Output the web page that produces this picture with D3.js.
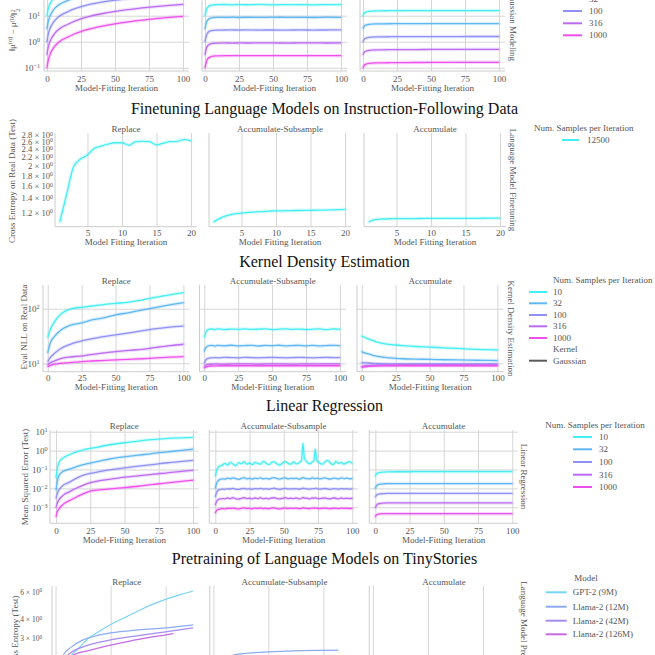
<!DOCTYPE html>
<html><head><meta charset="utf-8">
<script src="https://cdn.jsdelivr.net/npm/d3@7"></script>
<style>body{margin:0;background:#fff}svg{display:block}</style>
</head><body><svg id="c" width="655" height="655"></svg>
<script>
// ================= DATA =================
const sampleSizes = ["10","32","100","316","1000"];
const modelNames = ["GPT-2 (9M)","Llama-2 (12M)","Llama-2 (42M)","Llama-2 (126M)"];
const panelTitles = ["Replace","Accumulate-Subsample","Accumulate"];
const rowTitles = ["Finetuning Language Models on Instruction-Following Data","Kernel Density Estimation","Linear Regression","Pretraining of Language Models on TinyStories"];
const rowLabels = ["Gaussian Modeling","Language Model Finetuning","Kernel Density Estimation","Linear Regression","Language Model Pretraining"];
const ticks100 = [0,25,50,75,100];
const ticks20 = [5,10,15,20];
const ticksPT = [0,10,20];

// Gaussian modeling: ||mu^(n) - mu^(0)||^2
const gaussIters = [0,1,2,4,6,9,15,20,25,30,40,50,60,70,80,90,100];
const gaussReplace = [
 [10,19,27,41,52,65,79,88,93,96,98,99,100,101,100,99,100],
 [3.1,6.2,9.1,14.7,20,27,38,47,55,61,72,80,85,89,92,94,96],
 [1,2,3,4.9,6.8,9.6,14,18.2,22.2,26,33,39.5,45,50.5,55,59.5,63],
 [0.32,0.63,0.95,1.57,2.2,3.1,4.6,6.1,7.6,9.05,11.9,14.7,17.3,19.9,22.4,24.8,27.2],
 [0.1,0.2,0.3,0.5,0.7,1.0,1.49,1.98,2.47,2.96,3.92,4.88,5.82,6.76,7.69,8.6,9.5]];
const gaussAccSub = [
 [10,17,21,25,26,26.5,27,26.2,26.8,26.4,27.1,26.3,26.9,26.5,26.2,26.8,26.5],
 [3.1,5.4,6.8,8.0,8.5,8.7,8.6,8.8,8.55,8.75,8.6,8.8,8.65,8.7,8.55,8.8,8.6],
 [1.0,1.7,2.2,2.6,2.75,2.8,2.82,2.85,2.8,2.84,2.81,2.83,2.8,2.85,2.81,2.83,2.85],
 [0.32,0.55,0.7,0.82,0.87,0.89,0.9,0.89,0.9,0.895,0.9,0.9,0.89,0.9,0.9,0.895,0.9],
 [0.1,0.17,0.22,0.26,0.28,0.285,0.29,0.29,0.29,0.29,0.29,0.29,0.29,0.29,0.29,0.29,0.29]];
const gaussAcc = [
 [10,12.5,13.6,14.6,15,15.3,15.5,15.6,15.6,15.7,15.7,15.8,15.8,15.8,15.8,15.8,15.8],
 [3.2,4.0,4.35,4.6,4.75,4.85,4.9,4.92,4.93,4.95,4.96,4.97,4.98,4.98,4.99,4.99,5.0],
 [1.0,1.25,1.36,1.46,1.5,1.53,1.55,1.56,1.57,1.57,1.58,1.58,1.58,1.58,1.59,1.59,1.59],
 [0.32,0.4,0.43,0.46,0.475,0.485,0.49,0.495,0.5,0.5,0.5,0.505,0.505,0.505,0.51,0.51,0.51],
 [0.1,0.125,0.136,0.146,0.15,0.153,0.155,0.156,0.157,0.158,0.159,0.16,0.16,0.161,0.161,0.162,0.162]];

// Finetuning (cross entropy on real data)
const ftIters = [1,2,3,4,5,6,7,8,9,10,11,12,13,14,15,16,17,18,19,20];
const ftReplace = [1.08,1.47,1.98,2.15,2.25,2.42,2.48,2.53,2.57,2.57,2.5,2.6,2.61,2.6,2.51,2.56,2.6,2.61,2.66,2.62];
const ftAccSub = [1.08,1.13,1.16,1.18,1.19,1.2,1.205,1.21,1.215,1.22,1.22,1.222,1.224,1.225,1.226,1.228,1.23,1.232,1.235,1.24];
const ftAcc = [1.08,1.11,1.115,1.118,1.12,1.12,1.121,1.121,1.122,1.122,1.122,1.123,1.123,1.123,1.124,1.124,1.124,1.125,1.125,1.125];
const ftSampleSize = ["12500"];

// Kernel density estimation (eval NLL)
const kdeIters = [0,2,5,10,15,20,25,30,40,50,60,70,80,90,100];
const kdeReplace = [
 [30,42,58,81,95,103,106,110,118,125,132,145,163,180,197],
 [15.6,24,31,41,48,52,55,60,67,77,85,95,106,118,129],
 [10.7,12.8,15.2,18.8,21.5,23.8,25.6,27.3,30.5,33,36,39.5,43,46,48],
 [9.3,10.2,11,12.3,12.9,13.3,13.6,14.2,15.3,16.3,17.2,18,19.5,21,22.3],
 [8.7,9.1,9.6,10,10.2,10.5,10.7,10.9,11.2,11.5,11.8,12.1,12.5,12.9,13.2]];
const kdeSubIters = [0,1,2,3,5,8,10,15,20,25,30,35,40,45,50,55,60,65,70,75,80,85,90,95,100];
const kdeAccSub = [
 [30,36,40,41.5,42.5,41.5,42.8,41.6,42.4,41.9,42.6,41.7,42.3,42.8,41.5,42.2,42.6,41.8,42.4,41.6,42.1,42.7,41.2,42.5,42],
 [16.5,19,20.2,20.8,21.3,20.7,21.2,20.9,21.4,20.8,21.1,21.3,20.7,21.2,21,21.4,20.8,21.1,21.3,20.9,21.2,20.8,21.1,21.3,21],
 [10,11.3,12,12.3,12.6,12.7,12.6,12.8,12.7,12.6,12.8,12.7,12.6,12.7,12.8,12.7,12.6,12.7,12.8,12.7,12.6,12.7,12.8,12.7,12.7],
 [8.7,9.1,9.4,9.5,9.6,9.7,9.7,9.65,9.7,9.75,9.7,9.7,9.65,9.7,9.75,9.7,9.7,9.65,9.7,9.7,9.75,9.7,9.7,9.7,9.7],
 [8.2,8.5,8.7,8.8,8.9,8.95,9,9,9,9,9,9,9,9,9,9,9,9,9,9,9,9,9,9,9]];
const kdeAcc = [
 [31.6,30,28,24.9,23.2,22.2,21.6,21,20.3,19.8,19.2,18.7,18.2,17.8,17.5],
 [16.3,15.5,14.8,13.6,13,12.6,12.3,12.1,11.9,11.8,11.6,11.5,11.4,11.3,11.2],
 [10.3,10.2,10.1,9.9,9.8,9.75,9.7,9.7,9.7,9.7,9.7,9.7,9.7,9.7,9.7],
 [8.7,8.9,9.05,9.15,9.2,9.25,9.3,9.3,9.3,9.3,9.3,9.3,9.3,9.3,9.3],
 [8.4,8.6,8.8,8.9,8.95,9,9,9,9,9,9,9,9,9,9]];
const kdeKernel = ["Gaussian"];

// Linear regression (test MSE)
const lrIters = [0,1,2,4,6,9,15,20,25,30,40,50,60,70,80,90,100];
const lrReplace = [
 [0.036,0.12,0.22,0.35,0.45,0.58,0.86,1.1,1.3,1.5,2.1,2.6,3.2,3.8,4.3,4.7,5.0],
 [0.0081,0.025,0.045,0.07,0.085,0.1,0.14,0.18,0.22,0.26,0.37,0.47,0.57,0.7,0.83,1.0,1.2],
 [0.003,0.0055,0.008,0.012,0.016,0.02,0.035,0.05,0.062,0.072,0.098,0.123,0.15,0.18,0.22,0.26,0.3],
 [0.001,0.0017,0.0024,0.0036,0.0048,0.0062,0.0105,0.015,0.02,0.024,0.031,0.039,0.046,0.055,0.065,0.077,0.09],
 [0.00032,0.0006,0.0008,0.0012,0.0016,0.0021,0.0035,0.0053,0.0072,0.008,0.0095,0.011,0.013,0.016,0.019,0.023,0.027]];
const lrSubIters = [0,1,2,3,5,7,9,11,13,15,17,19,21,23,25,27,29,31,33,35,37,39,41,43,45,47,49,51,53,55,57,59,61,63,64,65,67,69,71,72,73,74,76,78,80,82,84,86,88,90,92,94,96,98,100];
const lrAccSub = [
 [0.045,0.09,0.13,0.15,0.17,0.21,0.17,0.24,0.19,0.16, 0.23,0.2,0.26,0.19,0.22,0.18,0.24,0.21,0.19,0.27, 0.22,0.18,0.23,0.25,0.2,0.17,0.22,0.26,0.21,0.19, 0.25,0.2,0.22,0.32,2.4,0.4,0.24,0.2,0.26,0.3, 1.2,0.32,0.22,0.19,0.25,0.3,0.22,0.18,0.27,0.21, 0.24,0.19,0.23,0.26,0.21],
 [0.01,0.019,0.025,0.029,0.032,0.031,0.035,0.032,0.036,0.033, 0.03,0.034,0.037,0.032,0.034,0.031,0.035,0.033,0.036,0.032, 0.034,0.031,0.035,0.037,0.033,0.031,0.034,0.036,0.032,0.034, 0.033,0.035,0.031,0.034,0.038,0.035,0.033,0.032,0.036,0.034, 0.033,0.035,0.032,0.034,0.036,0.033,0.031,0.035,0.034,0.032, 0.036,0.033,0.035,0.032,0.034],
 [0.0036,0.0062,0.0078,0.0086,0.0092,0.0089,0.0097,0.0093,0.0099,0.0091, 0.0088,0.0096,0.0101,0.0092,0.0095,0.0089,0.0098,0.0094,0.01,0.0092, 0.0096,0.009,0.0097,0.0102,0.0093,0.0089,0.0096,0.01,0.0092,0.0095, 0.0094,0.0098,0.009,0.0096,0.0104,0.0099,0.0094,0.0091,0.0098,0.0096, 0.0102,0.0097,0.0092,0.0095,0.0099,0.0093,0.0089,0.0097,0.0095,0.0091, 0.0098,0.0094,0.0096,0.0092,0.0095],
 [0.0013,0.0021,0.0025,0.0027,0.0029,0.0028,0.0031,0.0029,0.0032,0.0028, 0.0027,0.003,0.0032,0.0029,0.003,0.0028,0.0031,0.0029,0.0032,0.0028, 0.003,0.0028,0.0031,0.0032,0.0029,0.0028,0.003,0.0032,0.0029,0.003, 0.0029,0.0031,0.0028,0.003,0.0033,0.0031,0.003,0.0028,0.0031,0.003, 0.0032,0.003,0.0029,0.003,0.0031,0.0029,0.0028,0.0031,0.003,0.0028, 0.0031,0.0029,0.003,0.0029,0.003],
 [0.0005,0.00068,0.00076,0.0008,0.00085,0.00083,0.00089,0.00086,0.0009,0.00084, 0.00082,0.00088,0.00092,0.00086,0.00088,0.00083,0.0009,0.00087,0.00091,0.00085, 0.00088,0.00084,0.0009,0.00092,0.00086,0.00083,0.00088,0.00091,0.00086,0.00088, 0.00087,0.0009,0.00084,0.00088,0.00094,0.0009,0.00087,0.00085,0.0009,0.00088, 0.00092,0.00089,0.00086,0.00088,0.0009,0.00087,0.00084,0.00089,0.00088,0.00085, 0.0009,0.00087,0.00089,0.00086,0.00088]];
const lrAcc = [
 [0.045,0.06,0.066,0.071,0.073,0.075,0.076,0.076,0.076,0.077,0.077,0.077,0.077,0.077,0.077,0.077,0.077],
 [0.01,0.014,0.016,0.017,0.0175,0.018,0.018,0.018,0.018,0.018,0.018,0.018,0.018,0.018,0.018,0.018,0.018],
 [0.0036,0.0045,0.0049,0.0052,0.0053,0.0054,0.0054,0.0054,0.0054,0.0054,0.0054,0.0054,0.0054,0.0054,0.0054,0.0054,0.0054],
 [0.00095,0.0013,0.0015,0.0016,0.00165,0.0017,0.0017,0.0017,0.0017,0.0017,0.0017,0.0017,0.0017,0.0017,0.0017,0.0017,0.0017],
 [0.00032,0.0004,0.00043,0.00045,0.00046,0.00046,0.00046,0.00046,0.00046,0.00046,0.00046,0.00046,0.00046,0.00046,0.00046,0.00046,0.00046]];

// Pretraining (cross entropy, test)
const ptReplaceX = [[1,2,3,4,6,8,10,12,15,17.5,20,22.5,25],[1,1.4,2.9,5,7.5,10,15,20,25],[1,2.6,5,10,15,20,25],[1,3.2,6,10,13.5,17.1,21.4]];
const ptReplaceY = [[2.0,2.15,2.36,2.55,3.0,3.33,3.68,4.0,4.5,4.95,5.35,5.72,6.06],[2.15,2.34,2.64,2.93,3.12,3.25,3.4,3.5,3.66],[2.05,2.4,2.64,2.93,3.12,3.3,3.5],[2.0,2.34,2.5,2.71,2.88,3.04,3.22]];
const ptAccSubX = [[1,5,10,15,20,25],[1,3.6,8,12,16,22.7],[1,5,10,15,20,25],[1,5,10,15,21.4]];
const ptAccSubY = [[1.95,2.08,2.14,2.18,2.2,2.22],[2.05,2.34,2.43,2.47,2.5,2.52],[1.9,2.0,2.05,2.08,2.1,2.12],[1.85,1.95,2.0,2.03,2.06]];
const ptAccX = [[1,5,10,15,20,25],[1,5,10,15,20,25],[1,5,10,15,20,25],[1,5,10,15,21.4]];
const ptAccY = [[1.95,2.0,2.02,2.03,2.04,2.05],[2.0,2.1,2.15,2.18,2.2,2.22],[1.9,1.95,1.97,1.98,1.99,2.0],[1.85,1.9,1.92,1.93,1.94]];

// ================= STYLE =================
const COOL5 = ["#45eef2","#5fb8f3","#9090f5","#bb6cf2","#ee50ee"];
const COOL4 = ["#78d4f2","#8cabf2","#a58cf2","#c66ae8"];
const FONT = '"Liberation Serif","Times New Roman",serif';
const TXT = "#555";
const GRID = "#d6d6d6";
const SPINE = "#cccccc";

const svg = d3.select("#c");
let clipN = 0;

function supLabel(sel, mant, exp) {
  sel.text(null);
  sel.append("tspan").text(mant ? mant + " \u00d7 10" : "10");
  sel.append("tspan").attr("dy", "-0.45em").attr("font-size", "0.68em").text(exp);
}

function drawPanel(o) {
  const g = svg.append("g");
  const x = d3.scaleLinear().domain(o.xDomain).range([o.left, o.left + o.width]);
  const y = d3.scaleLog().domain(o.yDomain).range([o.bottom, o.top]);
  const h = o.bottom - o.top;
  g.append("g").attr("transform", `translate(0,${o.bottom})`)
    .call(d3.axisBottom(x).tickValues(o.xTicks).tickSize(-h).tickFormat(""))
    .call(a => { a.select(".domain").remove(); a.selectAll(".tick line").attr("stroke", GRID); });
  if (o.yGrid.length) {
    g.append("g").attr("transform", `translate(${o.left},0)`)
      .call(d3.axisLeft(y).tickValues(o.yGrid).tickSize(-o.width).tickFormat(""))
      .call(a => { a.select(".domain").remove(); a.selectAll(".tick line").attr("stroke", GRID); });
  }
  g.append("line").attr("x1", o.left).attr("x2", o.left).attr("y1", o.top).attr("y2", o.bottom).attr("stroke", SPINE);
  g.append("line").attr("x1", o.left).attr("x2", o.left + o.width).attr("y1", o.bottom).attr("y2", o.bottom).attr("stroke", SPINE);
  const id = "clp" + (clipN++);
  svg.append("clipPath").attr("id", id).append("rect")
    .attr("x", o.left).attr("y", o.top).attr("width", o.width).attr("height", h);
  const lg = g.append("g").attr("clip-path", `url(#${id})`);
  const line = d3.line().x(d => x(d[0])).y(d => y(d[1])).curve(d3.curveMonotoneX);
  o.series.forEach(s => {
    const pts = d3.zip(s.x, s.y);
    if (o.band) lg.append("path").attr("d", line(pts)).attr("fill", "none").attr("stroke", s.color)
      .attr("stroke-width", o.band).attr("stroke-opacity", 0.22).attr("stroke-linejoin", "round").attr("stroke-linecap", "round");
    lg.append("path").attr("d", line(pts)).attr("fill", "none").attr("stroke", s.color)
      .attr("stroke-width", o.lw || 1.3).attr("stroke-linejoin", "round");
  });
  g.append("g").attr("transform", `translate(0,${o.bottom})`)
    .call(d3.axisBottom(x).tickValues(o.xTicks).tickSize(0).tickPadding(o.xPad))
    .call(a => { a.select(".domain").remove(); a.attr("font-family", FONT).attr("font-size", 9).style("color", TXT); });
  if (o.xTitle) g.append("text").attr("x", o.left + o.width / 2).attr("y", o.xTitleY)
    .attr("text-anchor", "middle").attr("dominant-baseline", "central")
    .attr("font-family", FONT).attr("font-size", 9).attr("fill", TXT).text(o.xTitle);
  g.append("text").attr("x", o.left + o.width / 2).attr("y", o.top - 4)
    .attr("text-anchor", "middle").attr("dominant-baseline", "central")
    .attr("font-family", FONT).attr("font-size", 9).attr("fill", TXT).text(o.title);
  if (o.yLabels) {
    const ga = g.append("g").attr("transform", `translate(${o.left},0)`)
      .call(d3.axisLeft(y).tickValues(o.yLabels.map(d => d.v)).tickSize(0).tickPadding(o.yPad).tickFormat(() => ""))
      .call(a => { a.select(".domain").remove(); a.attr("font-family", FONT).attr("font-size", o.yFont || 9).style("color", TXT); });
    ga.selectAll(".tick text").each(function(d, i) { supLabel(d3.select(this), o.yLabels[i].m, o.yLabels[i].e); });
  }
}

function drawRow(r) {
  r.panels.forEach((series, i) => {
    drawPanel({
      left: r.lefts[i], width: r.width, top: r.top, bottom: r.bottom,
      xDomain: r.xDomain, yDomain: r.yDomain, xTicks: r.xTicks, yGrid: r.yGrid,
      yLabels: i === 0 ? r.yLabels : null, yPad: r.yPad, yFont: r.yFont, xPad: r.xPad,
      xTitle: r.xTitle, xTitleY: r.xTitleY, title: panelTitles[i],
      series: series, band: r.band, lw: r.lw
    });
  });
  const yt = svg.append("text").attr("transform", `translate(${r.yTitleX},${r.yTitleY}) rotate(-90)`)
    .attr("text-anchor", "middle").attr("dominant-baseline", "central")
    .attr("font-family", FONT).attr("font-size", 9).attr("fill", TXT);
  r.yTitle(yt);
  svg.append("text").attr("transform", `translate(${r.rowLabelX},${r.rowLabelY}) rotate(90)`)
    .attr("text-anchor", "middle").attr("dominant-baseline", "central")
    .attr("font-family", FONT).attr("font-size", 9).attr("fill", TXT).text(r.rowLabel);
  if (r.rowTitle) svg.append("text").attr("x", 324.5).attr("y", r.rowTitleY)
    .attr("text-anchor", "middle").attr("dominant-baseline", "central")
    .attr("font-family", FONT).attr("font-size", 16).attr("fill", "#111").text(r.rowTitle);
}

function drawLegend(L) {
  const g = svg.append("g").attr("font-family", FONT).attr("font-size", 9).attr("fill", TXT);
  g.append("text").attr("x", L.titleX).attr("y", L.titleY).attr("text-anchor", L.titleAnchor)
    .attr("dominant-baseline", "central").text(L.title);
  const items = L.items.map((d, i) => Object.assign({}, d, {yy: L.ys[i]}));
  const it = g.selectAll("g.it").data(items).join("g").attr("class", "it");
  it.filter(d => d.color).append("line").attr("x1", L.x1).attr("x2", L.x2)
    .attr("y1", d => d.yy).attr("y2", d => d.yy)
    .attr("stroke", d => d.color).attr("stroke-width", 2);
  it.append("text").attr("x", L.tx).attr("y", d => d.yy).attr("dominant-baseline", "central").text(d => d.label);
}

const mk = (xs, ys, cols) => ys.map((v, i) => ({x: xs, y: v, color: cols[i]}));
const mkXY = (xs, ys, cols) => ys.map((v, i) => ({x: xs[i], y: v, color: cols[i]}));
const dec = (e) => ({v: Math.pow(10, +e.replace("\u2212", "-")), e: e});

// ===== Row 1: Gaussian modeling =====
drawRow({
  top: -19, bottom: 71, lefts: [44, 202, 360], width: 145, xDomain: [-2.2, 104.4], xTicks: ticks100,
  yDomain: [0.075, 216], yGrid: [0.1, 1, 10, 100],
  yLabels: ["\u22121", "0", "1", "2"].map(dec), yPad: 4, xPad: 4.8,
  xTitle: "Model-Fitting Iteration", xTitleY: 88, band: 3.5,
  panels: [mk(gaussIters, gaussReplace, COOL5), mk(gaussIters, gaussAccSub, COOL5), mk(gaussIters, gaussAcc, COOL5)],
  yTitleX: 12, yTitleY: 30,
  yTitle: t => {
    t.append("tspan").text("\u2016\u03bc");
    t.append("tspan").attr("dy", "-0.4em").attr("font-size", "0.7em").text("(n)");
    t.append("tspan").attr("dy", "0.4em").text(" \u2212 \u03bc");
    t.append("tspan").attr("dy", "-0.4em").attr("font-size", "0.7em").text("(0)");
    t.append("tspan").attr("dy", "0.4em").text("\u2016");
    t.append("tspan").attr("dy", "-0.4em").attr("font-size", "0.7em").text("2");
    t.append("tspan").attr("dx", "-0.35em").attr("dy", "0.8em").attr("font-size", "0.7em").text("2");
  },
  rowLabel: rowLabels[0], rowLabelX: 513, rowLabelY: 26
});
drawLegend({title: "Num. Samples per Iteration", titleX: 595, titleY: -26, titleAnchor: "middle",
  items: sampleSizes.map((s, i) => ({label: s, color: COOL5[i]})),
  ys: [-13.5, -1.2, 11, 23.3, 35.3], x1: 563, x2: 582, tx: 589});

// ===== Row 2: Finetuning =====
const ftLab = [1.2,1.4,1.6,1.8,2,2.2,2.4,2.6,2.8].map(v => ({v: v, m: String(v), e: "0"}));
drawRow({
  top: 133, bottom: 226.7, lefts: [55, 209, 364], width: 142, xDomain: [0.3, 20.86], xTicks: ticks20,
  yDomain: [1.025, 2.86], yGrid: [], yLabels: ftLab, yPad: 2, yFont: 8.6, xPad: 3.3,
  xTitle: "Model Fitting Iteration", xTitleY: 241.7, band: 3.5,
  panels: [[{x: ftIters, y: ftReplace, color: COOL5[0]}], [{x: ftIters, y: ftAccSub, color: COOL5[0]}], [{x: ftIters, y: ftAcc, color: COOL5[0]}]],
  yTitleX: 12, yTitleY: 181, yTitle: t => t.text("Cross Entropy on Real Data (Test)"),
  rowLabel: rowLabels[1], rowLabelX: 513, rowLabelY: 180,
  rowTitle: rowTitles[0], rowTitleY: 108
});
drawLegend({title: "Num. Samples per Iteration", titleX: 534, titleY: 127.7, titleAnchor: "start",
  items: ftSampleSize.map(s => ({label: s, color: COOL5[0]})),
  ys: [140], x1: 562, x2: 579, tx: 587});

// ===== Row 3: KDE =====
drawRow({
  top: 285, bottom: 371.7, lefts: [43, 199.5, 357], width: 146.5, xDomain: [-3.5, 104.5], xTicks: ticks100,
  yDomain: [7.0, 272], yGrid: [10, 100], yLabels: ["1", "2"].map(dec), yPad: 3.5, xPad: 3.3,
  xTitle: "Model-Fitting Iteration", xTitleY: 386.5, band: 3.5,
  panels: [mk(kdeIters, kdeReplace, COOL5), mk(kdeSubIters, kdeAccSub, COOL5), mk(kdeIters, kdeAcc, COOL5)],
  yTitleX: 24, yTitleY: 327, yTitle: t => t.text("Eval NLL on Real Data"),
  rowLabel: rowLabels[2], rowLabelX: 510.5, rowLabelY: 328.5,
  rowTitle: rowTitles[1], rowTitleY: 261.7
});
drawLegend({title: "Num. Samples per Iteration", titleX: 553, titleY: 280, titleAnchor: "start",
  items: sampleSizes.map((s, i) => ({label: s, color: COOL5[i]}))
    .concat([{label: "Kernel", color: null}], kdeKernel.map(k => ({label: k, color: "#5a5a5a"}))),
  ys: [292, 303.3, 315, 326.3, 338, 349.3, 360.7], x1: 529, x2: 547, tx: 553});

// ===== Row 4: Linear regression =====
drawRow({
  top: 430, bottom: 523.3, lefts: [50, 209.3, 369.3], width: 148.6, xDomain: [-4.4, 104.1], xTicks: ticks100,
  yDomain: [1.42e-4, 12.3], yGrid: [1e-3, 1e-2, 1e-1, 1, 10],
  yLabels: ["\u22123", "\u22122", "\u22121", "0", "1"].map(dec), yPad: 2.5, xPad: 4.5,
  xTitle: "Model-Fitting Iteration", xTitleY: 539.5, band: 3.5,
  panels: [mk(lrIters, lrReplace, COOL5), mk(lrSubIters, lrAccSub, COOL5), mk(lrIters, lrAcc, COOL5)],
  yTitleX: 24.5, yTitleY: 477, yTitle: t => t.text("Mean Squared Error (Test)"),
  rowLabel: rowLabels[3], rowLabelX: 524, rowLabelY: 476.5,
  rowTitle: rowTitles[2], rowTitleY: 405
});
drawLegend({title: "Num. Samples per Iteration", titleX: 595, titleY: 425, titleAnchor: "middle",
  items: sampleSizes.map((s, i) => ({label: s, color: COOL5[i]})),
  ys: [437, 449.3, 462, 474.7, 487], x1: 573, x2: 592, tx: 599});

// ===== Row 5: Pretraining =====
const ptLab = [2, 3, 4, 6].map(v => ({v: v, m: String(v), e: "0"}));
drawRow({
  top: 586, bottom: 681, lefts: [52, 209.8, 369.3], width: 149.4, xDomain: [-0.65, 26.5], xTicks: ticksPT,
  yDomain: [1.59, 6.53], yGrid: [], yLabels: ptLab, yPad: 10, yFont: 7.5, xPad: 4,
  xTitle: "Model-Fitting Iteration", xTitleY: 697, band: 0, lw: 1.2,
  panels: [mkXY(ptReplaceX, ptReplaceY, COOL4), mkXY(ptAccSubX, ptAccSubY, COOL4), mkXY(ptAccX, ptAccY, COOL4)],
  yTitleX: 15, yTitleY: 633, yTitle: t => t.text("Cross Entropy (Test)"),
  rowLabel: rowLabels[4], rowLabelX: 524, rowLabelY: 633,
  rowTitle: rowTitles[3], rowTitleY: 558.3
});
drawLegend({title: "Model", titleX: 586, titleY: 578.3, titleAnchor: "middle",
  items: modelNames.map((s, i) => ({label: s, color: COOL4[i]})),
  ys: [592.3, 606.7, 620.7, 634.3], x1: 545.7, x2: 566.7, tx: 572.7});
</script>
</body></html>
